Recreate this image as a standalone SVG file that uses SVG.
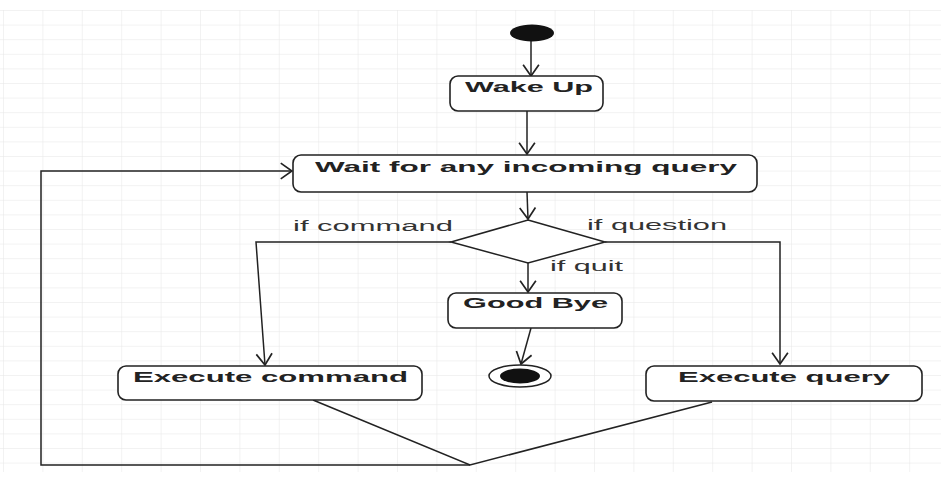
<svg xmlns="http://www.w3.org/2000/svg" width="941" height="480" viewBox="0 0 941 480">
<style>
.node{fill:#fff;stroke:#222;stroke-width:1.6}
.lbl{font-family:"Liberation Sans",Arial,sans-serif;font-weight:bold;font-size:14px;fill:#222}
.guard{font-family:"Liberation Sans",Arial,sans-serif;font-size:14px;fill:#333}
.edge{fill:none;stroke:#222;stroke-width:1.5}
.arr{marker-end:url(#open)}
</style>
<defs>
<pattern id="grid" patternUnits="userSpaceOnUse" x="3" y="10" width="39.4" height="14.6">
<path d="M0,0 H39.4 M0,0 V14.6" fill="none" stroke="#e6e6e6" stroke-width="1"/>
</pattern>
<marker id="open" markerUnits="userSpaceOnUse" markerWidth="14" markerHeight="18" viewBox="-1 -8 12 16" refX="10" refY="0" orient="auto">
<path d="M0,-7 L10,0 L0,7" fill="none" stroke="#222" stroke-width="1.5"/>
</marker>
</defs>
<rect width="941" height="480" fill="#fff"/>
<rect x="0" y="10" width="941" height="462" fill="url(#grid)"/>

<g id="connectors">
<line class="edge arr" x1="531" y1="41" x2="531" y2="76"/>
<line class="edge arr" x1="527" y1="111" x2="527" y2="154"/>
<line class="edge arr" x1="527" y1="192" x2="528" y2="219"/>
<polyline class="edge arr" points="451,242 256,242 265,365"/>
<polyline class="edge arr" points="605,242 780,242 780,364"/>
<line class="edge arr" x1="528" y1="263" x2="528" y2="292"/>
<line class="edge arr" x1="531" y1="328" x2="521" y2="364"/>
<polyline class="edge" points="313,400 470,465 712,402"/>
<polyline class="edge arr" points="470,465 41,465 41,171 292,171"/>
</g>

<g id="start"><ellipse cx="532" cy="33" rx="22" ry="8.5" fill="#111"/></g>

<g id="wake-up">
<rect class="node" x="450" y="76" width="153" height="35" rx="8"/>
<text class="lbl" x="465" y="92" textLength="128" lengthAdjust="spacingAndGlyphs">Wake Up</text>
</g>

<g id="wait">
<rect class="node" x="293" y="155" width="464" height="37" rx="8"/>
<text class="lbl" x="315" y="172" textLength="422" lengthAdjust="spacingAndGlyphs">Wait for any incoming query</text>
</g>

<g id="decision">
<polygon points="528,220 605,242 528,263 451,242" fill="#fff" stroke="#222" stroke-width="1.5"/>
</g>

<g id="guards">
<text class="guard" x="293" y="231" textLength="160" lengthAdjust="spacingAndGlyphs">if command</text>
<text class="guard" x="587" y="230" textLength="140" lengthAdjust="spacingAndGlyphs">if question</text>
<text class="guard" x="550" y="271" textLength="73" lengthAdjust="spacingAndGlyphs">if quit</text>
</g>

<g id="good-bye">
<rect class="node" x="448" y="293" width="174" height="35" rx="8"/>
<text class="lbl" x="463" y="308" textLength="145" lengthAdjust="spacingAndGlyphs">Good Bye</text>
</g>

<g id="end">
<ellipse cx="520" cy="376" rx="31" ry="11" fill="#fff" stroke="#222" stroke-width="1.5"/>
<ellipse cx="520" cy="376" rx="20" ry="7.5" fill="#111"/>
</g>

<g id="execute-command">
<rect class="node" x="118" y="366" width="304" height="34" rx="8"/>
<text class="lbl" x="133" y="382" textLength="275" lengthAdjust="spacingAndGlyphs">Execute command</text>
</g>

<g id="execute-query">
<rect class="node" x="646" y="366" width="276" height="35" rx="8"/>
<text class="lbl" x="678" y="382" textLength="212" lengthAdjust="spacingAndGlyphs">Execute query</text>
</g>
</svg>
